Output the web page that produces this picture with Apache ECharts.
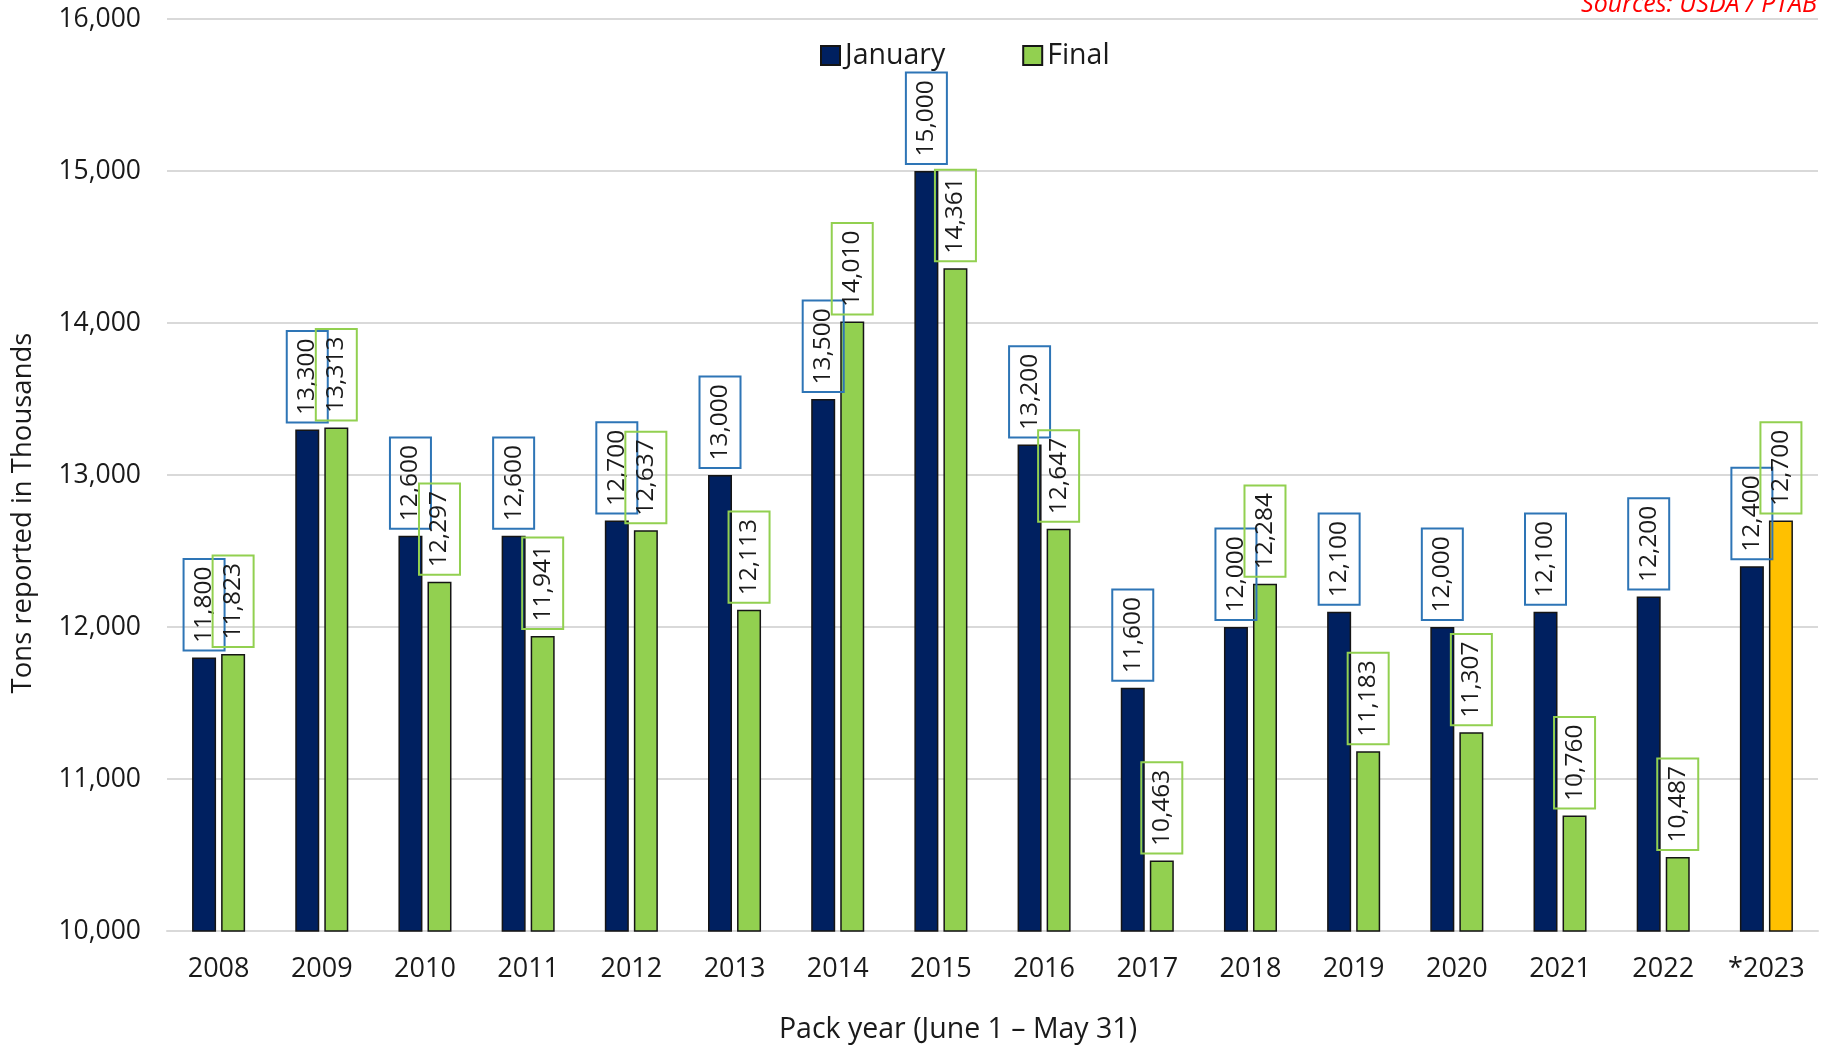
<!DOCTYPE html>
<html>
<head>
<meta charset="utf-8">
<script src="https://cdn.jsdelivr.net/npm/echarts@6/dist/echarts.min.js"></script>
<style>html,body{margin:0;padding:0;background:#fff;}#c{width:1827px;height:1049px;}</style>
</head>
<body>
<div id="c"></div>
<script>
const categories = ['2008','2009','2010','2011','2012','2013','2014','2015','2016','2017','2018','2019','2020','2021','2022','*2023'];
const january = [11800, 13300, 12600, 12600, 12700, 13000, 13500, 15000, 13200, 11600, 12000, 12100, 12000, 12100, 12200, 12400];
const finalVals = [11823, 13313, 12297, 11941, 12637, 12113, 14010, 14361, 12647, 10463, 12284, 11183, 11307, 10760, 10487, 12700];
const yTicks = { min: 10000, max: 16000, interval: 1000 };

const FONT = 'Open Sans';
const TXT = '#1a1a1a';
const fmt = v => Number(v).toLocaleString('en-US');

function labelCfg(border) {
  return {
    show: true, position: 'top', distance: 7, rotate: 90,
    align: 'left', verticalAlign: 'middle',
    fontFamily: FONT, fontSize: 24.5, color: TXT, lineHeight: 26,
    borderColor: border, borderWidth: 2, padding: [7.5, 7.5, 7.5, 7.5],
    formatter: p => fmt(p.value)
  };
}

const finalData = finalVals.map((v, i) => i === finalVals.length - 1
  ? { value: v, itemStyle: { color: '#FFC000' } } : v);

const chart = echarts.init(document.getElementById('c'), null, { renderer: 'canvas' });
chart.setOption({
  animation: false,
  backgroundColor: '#fff',
  grid: { left: 167, right: 9, top: 19, bottom: 118, containLabel: false },
  legend: {
    left: 820, top: 41, padding: 0, itemWidth: 19, itemHeight: 19, itemGap: 77, icon: 'rect',
    textStyle: { fontFamily: FONT, fontSize: 28.5, color: TXT },
    data: ['January', 'Final']
  },
  xAxis: {
    type: 'category', data: categories,
    axisLine: { lineStyle: { color: '#d9d9d9', width: 2 } },
    axisTick: { show: false },
    axisLabel: { fontFamily: FONT, fontSize: 27, color: TXT, margin: 25 }
  },
  yAxis: {
    type: 'value', min: yTicks.min, max: yTicks.max, interval: yTicks.interval,
    axisLine: { show: false }, axisTick: { show: false },
    splitLine: { lineStyle: { color: '#d9d9d9', width: 2 } },
    axisLabel: { fontFamily: FONT, fontSize: 26.5, color: TXT, margin: 26, formatter: v => fmt(v) }
  },
  series: [
    {
      name: 'January', type: 'bar', data: january, barWidth: 24, barGap: '21%',
      itemStyle: { color: '#002060', borderColor: '#151515', borderWidth: 1.5 },
      label: labelCfg('#2E75B6')
    },
    {
      name: 'Final', type: 'bar', data: finalData, barWidth: 24, barGap: '21%',
      itemStyle: { color: '#92D050', borderColor: '#151515', borderWidth: 1.5 },
      label: labelCfg('#92D050')
    }
  ],
  graphic: [
    { type: 'text', x: 23, y: 513, rotation: Math.PI / 2,
      style: { text: 'Tons reported in Thousands', fontFamily: FONT, fontSize: 27.5, fill: TXT, textAlign: 'center', textVerticalAlign: 'middle' } },
    { type: 'text', x: 958, y: 1030,
      style: { text: 'Pack year (June 1 – May 31)', fontFamily: FONT, fontSize: 28.5, fill: TXT, textAlign: 'center', textVerticalAlign: 'middle' } },
    { type: 'text', x: 1817, y: 17,
      style: { text: 'Sources: USDA / PTAB', fontFamily: FONT, fontSize: 25, fontStyle: 'italic', fill: '#ff0000', textAlign: 'right', textVerticalAlign: 'bottom' } }
  ]
});
</script>
</body>
</html>
